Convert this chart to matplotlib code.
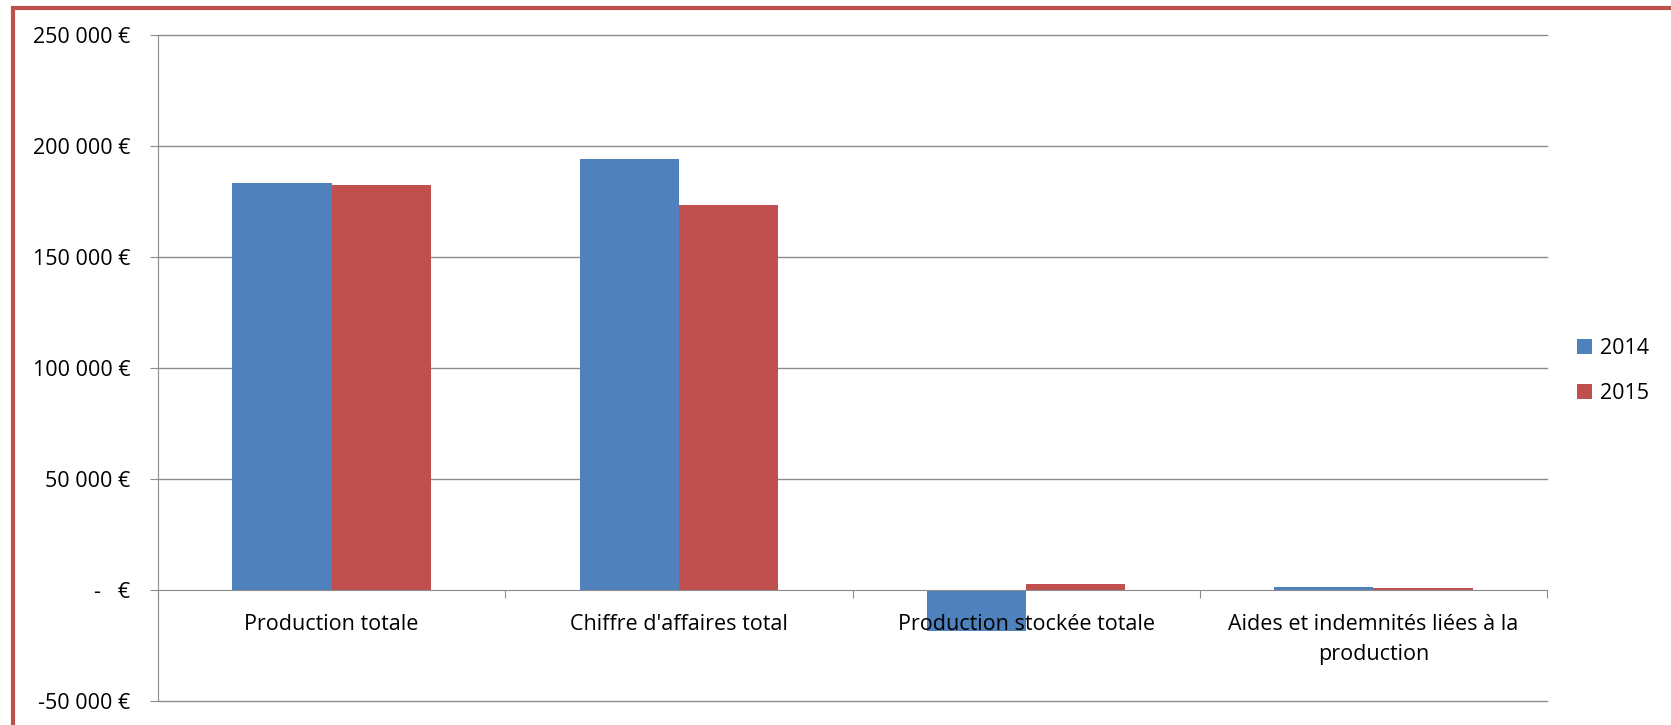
import matplotlib.pyplot as plt
from matplotlib.patches import Rectangle
from matplotlib.ticker import FixedLocator, FuncFormatter
import numpy as np

plt.rcParams["font.family"] = ["Open Sans", "DejaVu Sans"]

categories = [
    "Production totale",
    "Chiffre d'affaires total",
    "Production stockée totale",
    "Aides et indemnités liées à la\nproduction",
]
years = ["2014", "2015"]
values_2014 = [183300, 194000, -18500, 1500]
values_2015 = [182300, 173300, 2600, 750]
colors = ["#4F81BD", "#C0504D"]

W, H = 1671, 725
fig = plt.figure(figsize=(W / 100, H / 100), dpi=100)

# axes placed in pixel coords of the reference
left, right, top, bottom = 158, 1547, 35, 701
ax = fig.add_axes([left / W, 1 - bottom / H, (right - left) / W, (bottom - top) / H])

x = np.arange(len(categories))
bw = 0.2857
ax.bar(x - bw / 2, values_2014, bw, color=colors[0], label=years[0], zorder=2)
ax.bar(x + bw / 2, values_2015, bw, color=colors[1], label=years[1], zorder=2)

ax.set_xlim(-0.5, len(categories) - 0.5)
ax.set_ylim(-50000, 250000)
ax.set_axisbelow(False)  # category labels are written over the bars

grid_col = "#8C8C8C"
yt = np.arange(-50000, 250001, 50000)
ax.set_yticks(yt)
# gridlines under the bars
for v in yt:
    if v != 0:
        ax.axhline(v, color=grid_col, linewidth=1.0, zorder=0.5, clip_on=False)


def euro(v, pos):
    if v == 0:
        return "-   €"
    return f"{int(v):,} €".replace(",", " ")


fs = 15.5
ax.yaxis.set_major_formatter(FuncFormatter(euro))
ax.tick_params(axis="y", length=6, color=grid_col, labelsize=fs, pad=14)

# x axis on the zero line, ticks between categories
ax.spines["bottom"].set_position(("data", 0))
ax.spines["bottom"].set_color(grid_col)
ax.spines["left"].set_color(grid_col)
ax.spines["top"].set_visible(False)
ax.spines["right"].set_visible(False)
ax.xaxis.set_major_locator(FixedLocator(np.arange(len(categories) + 1) - 0.5))
ax.xaxis.set_major_formatter(FuncFormatter(lambda v, p: ""))
ax.xaxis.set_minor_locator(FixedLocator(x))
ax.set_xticklabels(categories, minor=True)
ax.tick_params(axis="x", which="major", length=6, color=grid_col, direction="out")
ax.tick_params(axis="x", which="minor", length=0, labelsize=fs, pad=17)
plt.setp(ax.get_xticklabels(minor=True), linespacing=1.6)

fig.legend(loc="center left", bbox_to_anchor=(1558 / W, 1 - 371 / H),
           frameon=False, fontsize=fs, handlelength=0.7, handleheight=0.7,
           handletextpad=0.35, labelspacing=1.15)

# red frame around the chart, cut by the image edges
fig.patches.append(Rectangle((13 / W, -0.1), 1.2, 1 - 8 / H + 0.1,
                             transform=fig.transFigure, fill=False,
                             edgecolor="#C0504D", linewidth=3))

fig.savefig("out.png", dpi=100)
